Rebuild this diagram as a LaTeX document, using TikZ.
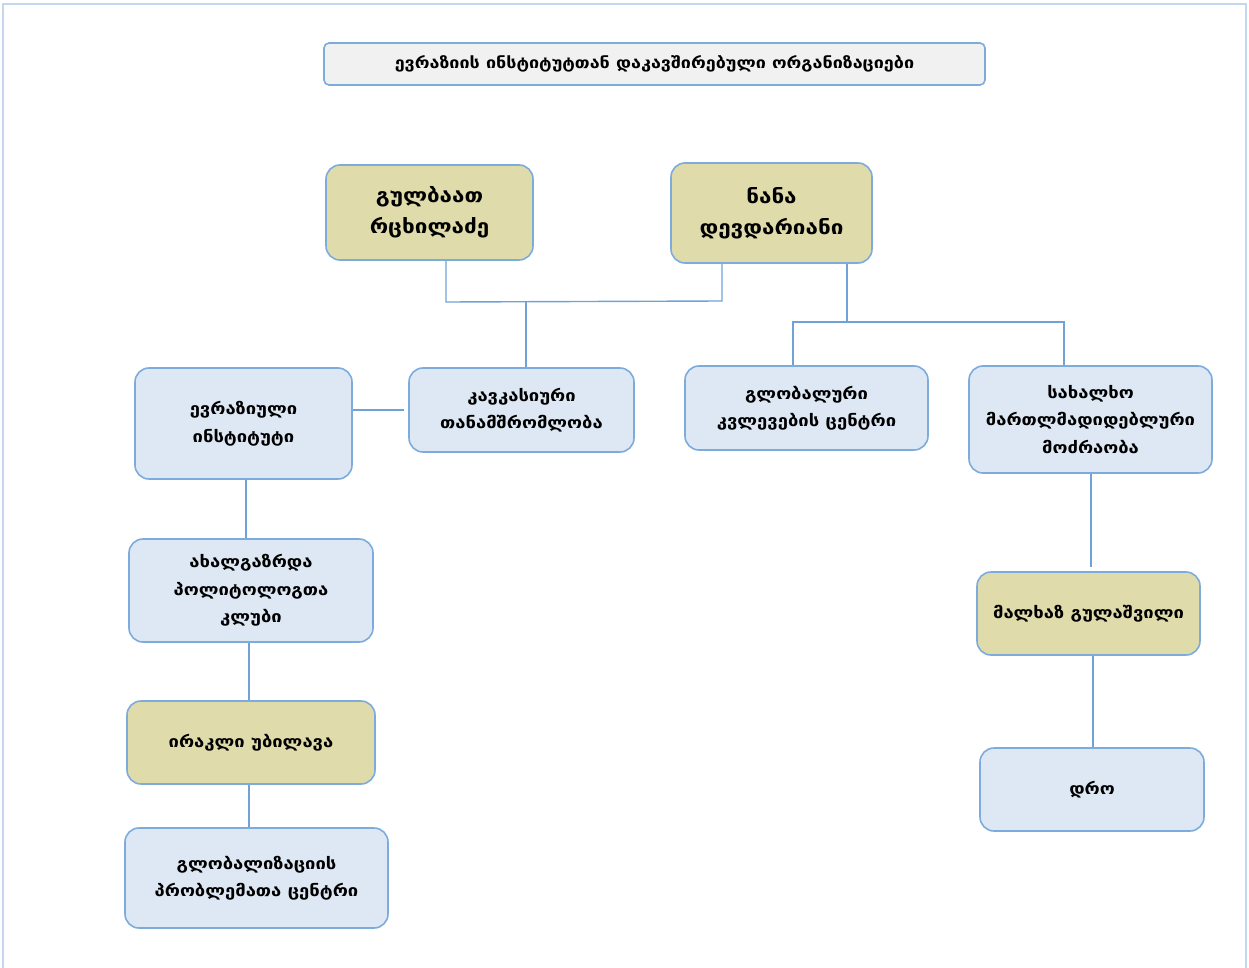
\documentclass[tikz,border=0pt]{standalone}
\usepackage{fontspec}
\setmainfont{DejaVu Sans}[FakeStretch=1.15]
\usetikzlibrary{calc}
\definecolor{bordc}{HTML}{7DACDC}
\definecolor{linec}{HTML}{6FA3D8}
\definecolor{tanf}{HTML}{E0DBAA}
\definecolor{bluef}{HTML}{DDE8F4}
\definecolor{grayf}{HTML}{F1F1F1}
\definecolor{framec}{HTML}{C3D7EE}
\tikzset{
  box/.style={draw=bordc, line width=1.6pt, rounded corners=14pt, align=center, inner sep=0pt,
     font=\bfseries\fontsize{16}{27.5}\selectfont},
  orgbox/.style={box, fill=bluef},
  personbox/.style={box, fill=tanf},
  bigperson/.style={personbox, font=\bfseries\fontsize{19.5}{31}\selectfont},
  titlebox/.style={box, fill=grayf, rounded corners=5pt, font=\bfseries\fontsize{15.6}{27}\selectfont},
  conn/.style={draw=linec, line width=1.4pt}
}
\begin{document}
\begin{tikzpicture}[x=1pt,y=-1pt]
\useasboundingbox (0,0) rectangle (1249,968);
% outer frame
\draw[framec, line width=2pt] (3,968) -- (3,4) -- (1246,4) -- (1246,968);
% nodes
\node[titlebox, minimum width=661pt, minimum height=42pt] (title) at (654.5,64) {ევრაზიის ინსტიტუტთან დაკავშირებული ორგანიზაციები};
\node[bigperson, minimum width=207pt, minimum height=95pt] (gul) at (429.5,212.5) {გულბაათ\\რცხილაძე};
\node[bigperson, minimum width=201pt, minimum height=100pt] (nana) at (771.5,213) {ნანა\\დევდარიანი};
\node[orgbox, minimum width=217pt, minimum height=111pt] (evr) at (243.5,423.5) {ევრაზიული\\ინსტიტუტი};
\node[orgbox, minimum width=225pt, minimum height=84pt] (kav) at (521.5,410) {კავკასიური\\თანამშრომლობა};
\node[orgbox, minimum width=243pt, minimum height=84pt] (glob) at (806.5,408) {გლობალური\\კვლევების ცენტრი};
\node[orgbox, minimum width=243pt, minimum height=107pt] (sakh) at (1090.5,419.5) {სახალხო\\მართლმადიდებლური\\მოძრაობა};
\node[orgbox, minimum width=244pt, minimum height=103pt] (akh) at (251,590.5) {ახალგაზრდა\\პოლიტოლოგთა\\კლუბი};
\node[personbox, minimum width=248pt, minimum height=83pt] (irak) at (251,742.5) {ირაკლი უბილავა};
\node[orgbox, minimum width=263pt, minimum height=100pt] (globz) at (256.5,878) {გლობალიზაციის\\პრობლემათა ცენტრი};
\node[personbox, minimum width=223pt, minimum height=83pt] (malk) at (1088.5,613.5) {მალხაზ გულაშვილი};
\node[orgbox, minimum width=224pt, minimum height=83pt] (dro) at (1092,789.5) {დრო};
% junction coordinates
\coordinate (jl) at (446,302);
\coordinate (jr) at (722,301);
\coordinate (jm) at (526,301.5);
\coordinate (kl) at (793,322);
\coordinate (kr) at (1064,322);
\coordinate (km) at (847,322);
\coordinate (sx) at (1091,567);
% connectors
\draw[conn] (gul.south -| jl) -- (jl) -- (jr) -- (nana.south -| jr);
\draw[conn] (jm) -- (kav.north -| jm);
\draw[conn] (nana.south -| km) -- (km);
\draw[conn] (glob.north -| kl) -- (kl) -- (kr) -- (sakh.north -| kr);
\draw[conn] (evr.east |- kav.west) -- ($(kav.west)+(-4,0)$);
\draw[conn] (evr.south -| 246,0) -- (akh.north -| 246,0);
\draw[conn] (akh.south -| 249,0) -- (irak.north -| 249,0);
\draw[conn] (irak.south -| 249,0) -- (globz.north -| 249,0);
\draw[conn] (sakh.south -| sx) -- (sx);
\draw[conn] (malk.south -| 1093,0) -- (dro.north -| 1093,0);
\end{tikzpicture}
\end{document}
